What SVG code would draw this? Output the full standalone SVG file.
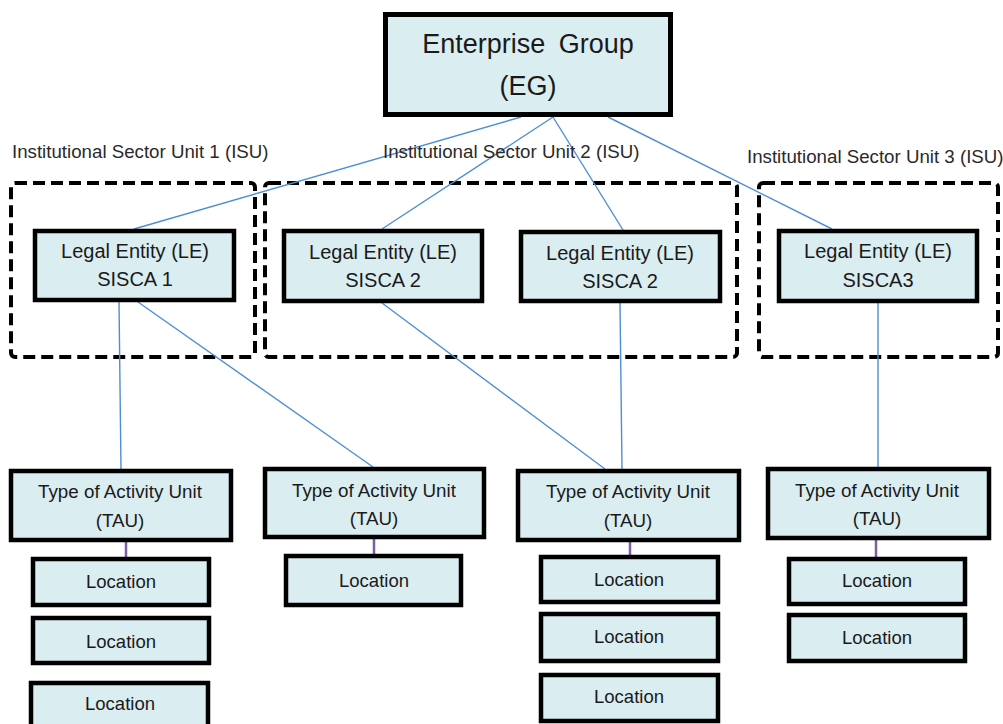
<svg xmlns="http://www.w3.org/2000/svg" width="1003" height="724" viewBox="0 0 1003 724">
  <style>
    .box { fill: #daedf1; stroke: #000; stroke-width: 4.5; }
    .eg { fill: #daedf1; stroke: #000; stroke-width: 5; }
    .isu { fill: none; stroke: #000; stroke-width: 4; stroke-dasharray: 12 6; }
    .link { stroke: #4f8fd1; stroke-width: 1.4; fill: none; }
    .loc-link { stroke: #7e5ea6; stroke-width: 2.5; fill: none; }
    text { font-family: "Liberation Sans", Arial, sans-serif; fill: #1a1a1a; }
    .t-eg { font-size: 27px; text-anchor: middle; word-spacing: 6px; }
    .t-le { font-size: 20px; text-anchor: middle; }
    .t-tau { font-size: 18.8px; text-anchor: middle; }
    .t-loc { font-size: 18.5px; text-anchor: middle; }
    .t-isu { font-size: 18.7px; fill: #2a2a2a; }
  </style>

  <rect width="1003" height="724" fill="#ffffff"/>

  <!-- institutional sector unit frames -->
  <g id="isu1">
    <rect class="isu" x="11" y="183" width="244" height="174" rx="4"/>
    <text class="t-isu" x="12" y="158">Institutional Sector Unit 1 (ISU)</text>
  </g>
  <g id="isu2">
    <rect class="isu" x="265" y="183" width="472" height="174" rx="4"/>
  </g>
  <g id="isu3">
    <rect class="isu" x="759" y="183" width="239" height="174" rx="4"/>
    <text class="t-isu" x="747" y="163">Institutional Sector Unit 3 (ISU)</text>
  </g>

  <!-- connectors -->
  <g id="connectors">
    <line class="link" x1="521" y1="117" x2="134" y2="229"/>
    <line class="link" x1="553" y1="117" x2="382" y2="229"/>
    <line class="link" x1="553" y1="117" x2="623" y2="230"/>
    <line class="link" x1="608" y1="117" x2="832" y2="229"/>
    <line class="link" x1="119" y1="302" x2="121" y2="469"/>
    <line class="link" x1="138" y1="302" x2="373" y2="467"/>
    <line class="link" x1="382" y1="303" x2="605" y2="469"/>
    <line class="link" x1="620" y1="303" x2="622" y2="469"/>
    <line class="link" x1="878" y1="303" x2="878" y2="467"/>
    <line class="loc-link" x1="126" y1="542" x2="126" y2="557"/>
    <line class="loc-link" x1="374" y1="539" x2="374" y2="554"/>
    <line class="loc-link" x1="630" y1="542" x2="630" y2="555"/>
    <line class="loc-link" x1="876" y1="540" x2="876" y2="557"/>
  </g>

  <!-- label of the middle frame sits over the connectors -->
  <text class="t-isu" x="383" y="158">Institutional Sector Unit 2 (ISU)</text>

  <g id="eg">
    <rect class="eg" x="385.5" y="14.5" width="285" height="100"/>
    <text class="t-eg" x="528" y="53">Enterprise Group</text>
    <text class="t-eg" x="528" y="95">(EG)</text>
  </g>

  <g id="le1">
    <rect class="box" x="35" y="231" width="199" height="69"/>
    <text class="t-le" x="135" y="258">Legal Entity (LE)</text>
    <text class="t-le" x="135" y="286">SISCA 1</text>
  </g>
  <g id="le2a">
    <rect class="box" x="284" y="231" width="198" height="70"/>
    <text class="t-le" x="383" y="259">Legal Entity (LE)</text>
    <text class="t-le" x="383" y="287">SISCA 2</text>
  </g>
  <g id="le2b">
    <rect class="box" x="521" y="232" width="199" height="69"/>
    <text class="t-le" x="620" y="260">Legal Entity (LE)</text>
    <text class="t-le" x="620" y="288">SISCA 2</text>
  </g>
  <g id="le3">
    <rect class="box" x="779" y="231" width="198" height="70"/>
    <text class="t-le" x="878" y="258">Legal Entity (LE)</text>
    <text class="t-le" x="878" y="287">SISCA3</text>
  </g>

  <g id="tau1">
    <rect class="box" x="11" y="471" width="220" height="69"/>
    <text class="t-tau" x="120" y="498">Type of Activity Unit</text>
    <text class="t-tau" x="120" y="527">(TAU)</text>
  </g>
  <g id="tau2">
    <rect class="box" x="265" y="469" width="219" height="68"/>
    <text class="t-tau" x="374" y="497">Type of Activity Unit</text>
    <text class="t-tau" x="374" y="525">(TAU)</text>
  </g>
  <g id="tau3">
    <rect class="box" x="518" y="471" width="221" height="69"/>
    <text class="t-tau" x="628" y="498">Type of Activity Unit</text>
    <text class="t-tau" x="628" y="527">(TAU)</text>
  </g>
  <g id="tau4">
    <rect class="box" x="768" y="469" width="221" height="69"/>
    <text class="t-tau" x="877" y="497">Type of Activity Unit</text>
    <text class="t-tau" x="877" y="525">(TAU)</text>
  </g>

  <g id="loc1a">
    <rect class="box" x="33" y="559" width="176" height="46"/>
    <text class="t-loc" x="121" y="588">Location</text>
  </g>
  <g id="loc1b">
    <rect class="box" x="33" y="618" width="176" height="45"/>
    <text class="t-loc" x="121" y="648">Location</text>
  </g>
  <g id="loc1c">
    <rect class="box" x="31" y="683" width="177" height="50"/>
    <text class="t-loc" x="120" y="710">Location</text>
  </g>
  <g id="loc2a">
    <rect class="box" x="286" y="556" width="175" height="49"/>
    <text class="t-loc" x="374" y="587">Location</text>
  </g>
  <g id="loc3a">
    <rect class="box" x="541" y="557" width="177" height="45"/>
    <text class="t-loc" x="629" y="586">Location</text>
  </g>
  <g id="loc3b">
    <rect class="box" x="541" y="614" width="177" height="47"/>
    <text class="t-loc" x="629" y="643">Location</text>
  </g>
  <g id="loc3c">
    <rect class="box" x="541" y="675" width="177" height="46"/>
    <text class="t-loc" x="629" y="703">Location</text>
  </g>
  <g id="loc4a">
    <rect class="box" x="789" y="559" width="176" height="45"/>
    <text class="t-loc" x="877" y="587">Location</text>
  </g>
  <g id="loc4b">
    <rect class="box" x="789" y="615" width="176" height="46"/>
    <text class="t-loc" x="877" y="644">Location</text>
  </g>
</svg>
